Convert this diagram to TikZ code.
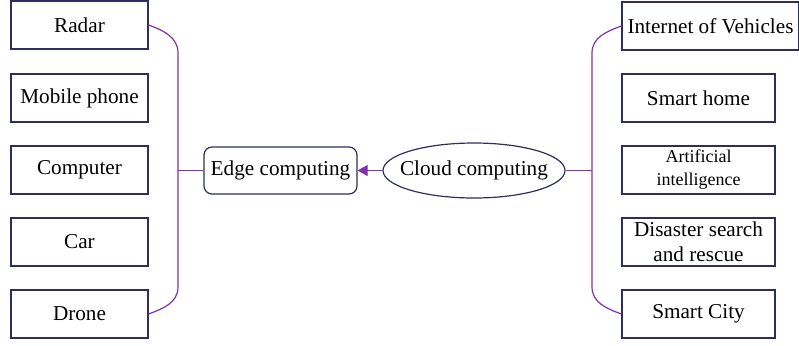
\documentclass[tikz,border=0pt]{standalone}
\usepackage{fontspec}
\setmainfont{Liberation Serif}
\usepackage{tikz}
\usetikzlibrary{shapes.geometric,arrows.meta}

\definecolor{linkcol}{RGB}{128,48,180}
\definecolor{boxcol}{RGB}{45,45,95}

\begin{document}
\begin{tikzpicture}[x=0.5pt,y=-0.5pt,
  every node/.style={font=\fontsize{10.6}{12.5}\selectfont},
  leaf/.style={draw=boxcol,line width=0.6pt,fill=white,minimum width=68.5pt,minimum height=24pt,inner sep=1pt,align=center},
  wideleaf/.style={leaf,minimum width=76.5pt},
  link/.style={draw=linkcol,line width=0.6pt}]
  \useasboundingbox (0,0) rectangle (799,345);

  % Devices (left)
  \node[leaf] (radar) at (79.5,25) {Radar};
  \node[leaf] (phone) at (79.5,98) {Mobile phone};
  \node[leaf] (computer) at (79.5,170) {Computer};
  \node[leaf] (car) at (79.5,242) {Car};
  \node[leaf] (drone) at (79.5,314) {Drone};

  % Applications (right)
  \node[leaf,minimum width=88.5pt] (iov) at (710.5,26) {Internet of Vehicles};
  \node[wideleaf] (home) at (698.5,98) {Smart home};
  \node[wideleaf,font=\fontsize{9}{11.5}\selectfont] (ai) at (698.5,170) {Artificial\\intelligence};
  \node[wideleaf] (rescue) at (698.5,242) {Disaster search\\and rescue};
  \node[wideleaf] (city) at (698.5,314) {Smart City};

  % Middle
  \node[draw=boxcol,line width=0.6pt,rounded corners=4pt,minimum width=76.5pt,minimum height=23.5pt,inner sep=1pt] (edge) at (280.5,170.5) {Edge computing};
  \node[draw=boxcol,line width=0.6pt,ellipse,minimum width=91pt,minimum height=27.5pt,inner xsep=-5pt,inner ysep=0pt] (cloud) at (474,170.5) {Cloud computing};

  % Bracket points
  \coordinate (lt) at (178,53);
  \coordinate (lb) at (178,287);
  \coordinate (lm) at (178,170.5);
  \coordinate (rt) at (592,53);
  \coordinate (rb) at (592,287);
  \coordinate (rm) at (592,170.5);

  % Brackets
  \draw[link] (radar.east) to[out=-20,in=90] (lt) -- (lb) to[out=-90,in=20] (drone.east);
  \draw[link] (iov.west) to[out=200,in=90] (rt) -- (rb) to[out=-90,in=160] (city.west);
  \draw[link] (lm) -- (edge.west);
  \draw[link] (cloud.east) -- (rm);

  % Cloud to edge
  \draw[link,-{Triangle[length=5pt,width=5.5pt]},linkcol] (cloud.west) -- (edge.east);
\end{tikzpicture}
\end{document}
